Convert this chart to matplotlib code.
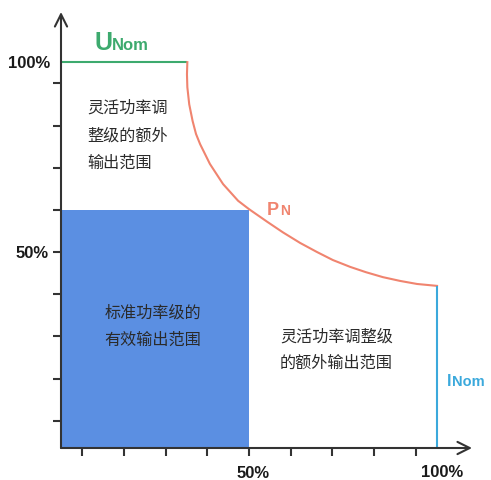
import matplotlib
matplotlib.use("Agg")
import matplotlib.pyplot as plt

# ---- data (percent units) ----
curve_x = [33.6, 33.5, 33.6, 34.1, 35.0, 35.9, 37.0, 39.6, 43.1, 47.1, 50.0, 54.8, 59.0, 63.6, 68.1, 72.3, 76.9, 81.1, 85.6, 90.2, 94.7, 100.0]
curve_y = [100.0, 96.8, 93.4, 88.9, 84.5, 81.1, 78.4, 73.2, 67.9, 63.5, 61.3, 58.0, 55.2, 52.4, 50.0, 47.9, 46.1, 44.7, 43.4, 42.4, 41.6, 41.1]
u_nom_level = 100.0
u_nom_end = 33.6
std_x = 50.0
std_y = 61.2
i_nom_x = 100.0
i_nom_top = 41.1
tick_pos = [5.6, 16.7, 27.8, 38.9, 50.0, 61.1, 72.2, 83.3, 94.4]
label_50 = "50%"
label_100 = "100%"
txt_flex_left = ["灵活功率调", "整级的额外", "输出范围"]
txt_std = ["标准功率级的", "有效输出范围"]
txt_flex_right = ["灵活功率调整级", "的额外输出范围"]

GREEN = "#3DAA6E"
RED = "#F0846F"
CYAN = "#3BA9DC"
BLUE = "#5B8FE2"
AX = "#333333"
TXT = "#2a2a2a"
LAB = "#1a1a1a"

plt.rcParams['font.family'] = ['Liberation Sans', 'Noto Sans CJK SC', 'DejaVu Sans']
fig = plt.figure(figsize=(4.91, 4.81), dpi=100)
ax = fig.add_axes([61/491, 32/481, 411/491, 436/481])
ax.set_xlim(0, 109.3)
ax.set_ylim(-1.58, 113.2)
ymin = ax.get_ylim()[0]

for s in ax.spines.values():
    s.set_visible(False)

# axes with arrows
arrow = dict(arrowstyle="->", color=AX, lw=1.5, mutation_scale=22, shrinkA=0, shrinkB=0)
ax.annotate("", xy=(0, 1), xytext=(0, 0), xycoords="axes fraction", textcoords="axes fraction", arrowprops=arrow, zorder=5)
ax.annotate("", xy=(1, 0), xytext=(0, 0), xycoords="axes fraction", textcoords="axes fraction", arrowprops=arrow, zorder=5)

# ticks
ax.set_xticks(tick_pos)
ax.set_yticks(tick_pos)
ax.set_xticklabels([])
ax.set_yticklabels([])
ax.tick_params(axis="both", direction="out", length=6, width=1.5, color=AX)

lab_kw = dict(fontsize=12, fontweight="bold", color=LAB, textcoords="offset points")
ax.annotate(label_100, xy=(0, u_nom_level), xycoords=("axes fraction", "data"),
            xytext=(-8, 0), ha="right", va="center", **lab_kw)
ax.annotate(label_50, xy=(0, 50.0), xycoords=("axes fraction", "data"),
            xytext=(-8.6, 0), ha="right", va="center", **lab_kw)
ax.annotate(label_50, xy=(50.0, 0), xycoords=("data", "axes fraction"),
            xytext=(3, -12.3), ha="center", va="top", **lab_kw)
ax.annotate(label_100, xy=(i_nom_x, 0), xycoords=("data", "axes fraction"),
            xytext=(4, -11.5), ha="center", va="top", **lab_kw)

# standard region
ax.fill_between([0, std_x], ymin, std_y, color=BLUE, lw=0, zorder=1)

# lines
ax.hlines(u_nom_level, 0, u_nom_end, color=GREEN, lw=1.5, zorder=3)
ax.plot(curve_x, curve_y, color=RED, lw=1.5, zorder=3, solid_joinstyle="round")
ax.vlines(i_nom_x, ymin, i_nom_top, color=CYAN, lw=1.5, zorder=3)

# labels
ax.text(9.0, 103.4, "U", fontsize=18, fontweight="bold", color=GREEN, va="baseline", ha="left")
ax.text(13.6, 103.4, "Nom", fontsize=12, fontweight="bold", color=GREEN, va="baseline", ha="left")
ax.text(54.8, 60.0, "P", fontsize=13, fontweight="bold", color=RED, va="baseline", ha="left")
ax.text(58.3, 60.0, "N", fontsize=10, fontweight="bold", color=RED, va="baseline", ha="left")
ax.text(102.6, 15.0, "I", fontsize=11.5, fontweight="bold", color=CYAN, va="baseline", ha="left")
ax.text(104.1, 15.0, "Nom", fontsize=10.5, fontweight="bold", color=CYAN, va="baseline", ha="left")

cjk = ['Noto Sans CJK SC', 'DejaVu Sans']
fs = 11.6
for t, y in zip(txt_flex_left, [88.2, 80.8, 73.7]):
    ax.text(6.9, y, t, fontsize=fs, family=cjk, color=TXT, ha="left", va="center")
for t, y in zip(txt_std, [34.2, 27.1]):
    ax.text(24.5, y, t, fontsize=fs, family=cjk, color=TXT, ha="center", va="center", zorder=4)
for t, y in zip(txt_flex_right, [27.9, 21.1]):
    ax.text(58.2, y, t, fontsize=fs, family=cjk, color=TXT, ha="left", va="center")

fig.savefig("out.png", dpi=100)
